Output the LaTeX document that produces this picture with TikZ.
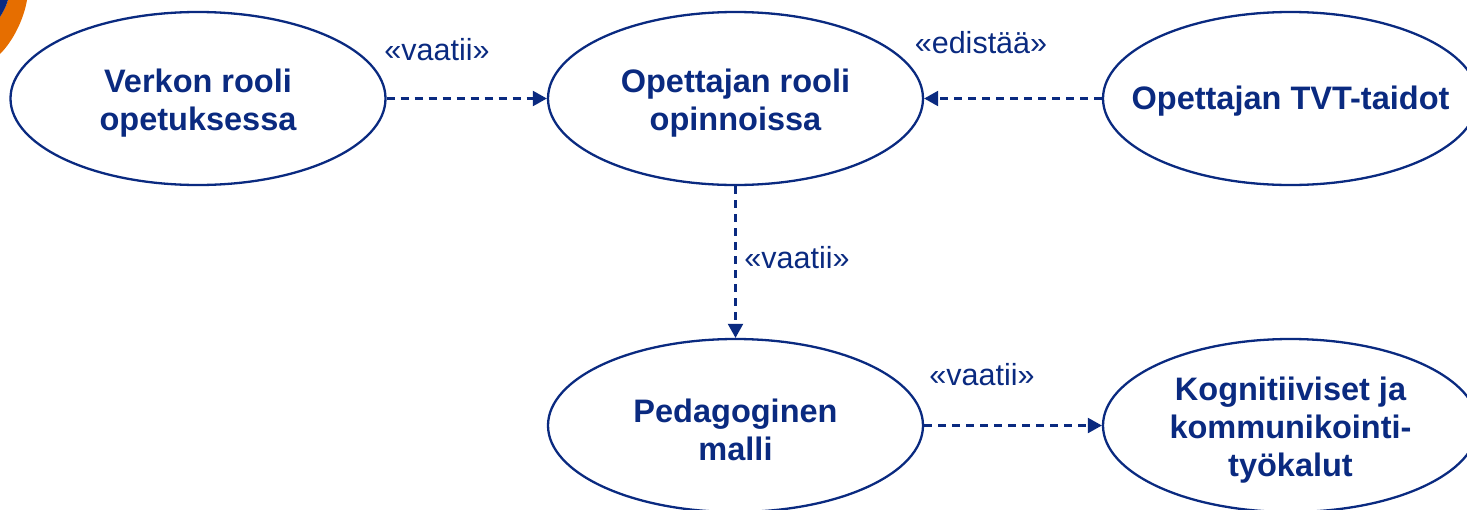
\documentclass[tikz,border=0pt]{standalone}
\usepackage{fontspec}
\setmainfont{Liberation Sans}
\usetikzlibrary{shapes.geometric,arrows.meta}
\definecolor{navy}{RGB}{10,42,128}
\definecolor{corner}{RGB}{230,110,0}
\tikzset{
  usecase/.style={ellipse, draw=navy, line width=2.3pt, minimum width=375pt, minimum height=173pt, inner sep=0pt},
  uctext/.style={align=center, text=navy, inner sep=0pt, font=\fontsize{32.5}{38}\selectfont\bfseries},
  dep/.style={draw=navy, line width=2.2pt, dash pattern=on 8pt off 6pt, -{Triangle[length=14pt,width=15pt]}},
  stereo/.style={text=navy, font=\fontsize{30.5}{35}\selectfont, inner sep=0pt}
}
\begin{document}
\begin{tikzpicture}[x=1pt,y=-1pt]
\useasboundingbox (0,0) rectangle (1467,509);
\clip (0,0) rectangle (1467,509);
% decorative corner
\fill[corner] (0,54) .. controls (14,40) and (24,18) .. (27,0) -- (8,0) .. controls (6,7) and (3,12) .. (0,17) -- cycle;
\fill[navy] (0,0) -- (8,0) .. controls (6,7) and (3,12) .. (0,17) -- cycle;
% nodes
\node[usecase] (e1) at (198,98.5) {};
\node[usecase] (e2) at (735.5,98.5) {};
\node[usecase] (e3) at (1290.5,98.5) {};
\node[usecase] (e4) at (735.5,425.5) {};
\node[usecase] (e5) at (1290.5,425.5) {};
\node[uctext] (t1) at (198,103) {Verkon rooli\\opetuksessa};
\node[uctext] (t2) at (735.5,103) {Opettajan rooli\\opinnoissa};
\node[uctext] (t3) at (1290.5,101) {Opettajan TVT-taidot};
\node[uctext] (t4) at (735.5,430) {Pedagoginen\\malli};
\node[uctext] (t5) at (1290.5,430) {Kognitiiviset ja\\kommunikointi-\\työkalut};
% connectors
\draw[dep] (e1.east) -- (e2.west);
\draw[dep] (e3.west) -- (e2.east);
\draw[dep] (e2.south) -- (e4.north);
\draw[dep] (e4.east) -- (e5.west);
% labels
\node[stereo] (l1) at (437,50) {«vaatii»};
\node[stereo] (l2) at (981,43) {«edistää»};
\node[stereo] (l3) at (797,258) {«vaatii»};
\node[stereo] (l4) at (982,375) {«vaatii»};
\end{tikzpicture}
\end{document}
